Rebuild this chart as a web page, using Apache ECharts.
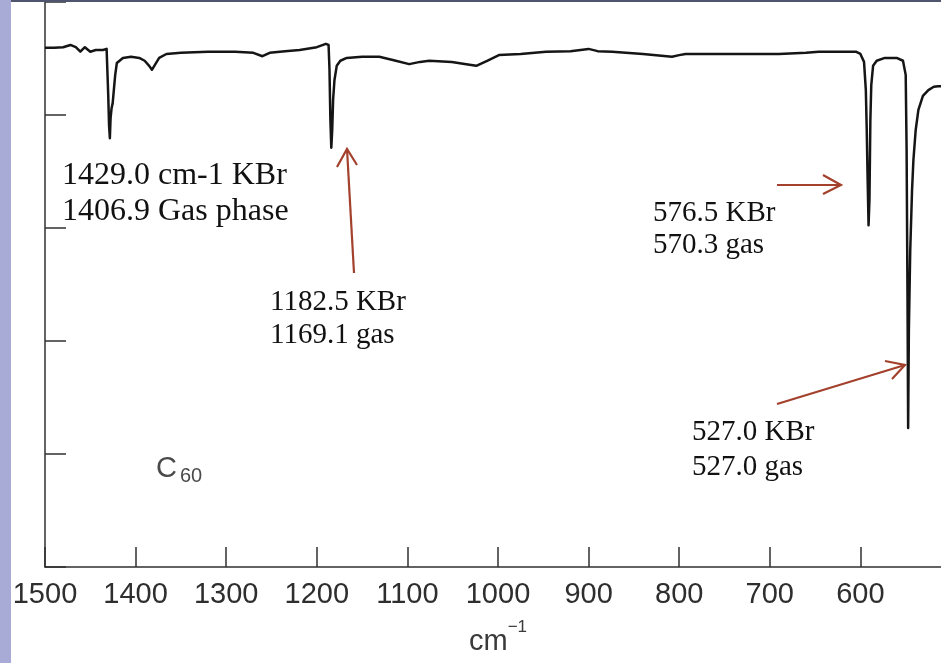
<!DOCTYPE html>
<html>
<head>
<meta charset="utf-8">
<title>C60 IR spectrum</title>
<script src="https://cdn.jsdelivr.net/npm/echarts@6/dist/echarts.min.js"></script>
<style>
  html, body { margin: 0; padding: 0; background: #ffffff; }
  #chart { width: 941px; height: 663px; }
</style>
</head>
<body>
<div id="chart"></div>
<script>
// Wavenumbers (cm^-1) of the sampled spectrum, high to low
const wavenumber = [
  1500, 1490, 1480, 1472, 1466, 1461, 1456, 1450, 1444, 1436, 1432,
  1431, 1430.2, 1429.3, 1428.4, 1427.6, 1426.5, 1425.3, 1424.2, 1422.5, 1420.7,
  1417, 1414, 1405, 1396, 1390, 1385, 1382, 1379, 1374, 1366, 1350,
  1320, 1290, 1270, 1260, 1252, 1235, 1219, 1200, 1190, 1187,
  1186, 1185, 1184, 1183, 1182, 1180.5, 1178, 1174, 1167, 1150,
  1131, 1115, 1098, 1086, 1076, 1051, 1035, 1024, 1012, 999,
  975, 947, 920, 900, 890, 874, 840, 808, 800, 793,
  760, 720, 690, 660, 646, 620, 605, 600,
  596, 594, 593, 592, 591, 590, 589, 588, 586, 582,
  573, 560, 553, 550, 549, 548, 547.3, 546.5, 545, 543,
  541.5, 539, 536, 531, 525, 519, 514, 510
];

// Transmittance (%) at each wavenumber above
const transmittance = [
  91.9, 91.9, 92.0, 92.4, 92.0, 91.2, 92.0, 91.2, 91.5, 91.5, 91.7,
  91.5, 83.5, 78.2, 75.9, 79.5, 81.2, 82.1, 84.1, 87.1, 89.2,
  89.7, 90.1, 90.3, 90.1, 89.6, 88.7, 88.0, 88.8, 90.1, 90.8, 91.0,
  91.2, 91.2, 91.0, 90.4, 91.0, 91.3, 91.5, 92.0, 92.6, 92.4,
  88.0, 79.1, 74.2, 77.3, 82.7, 86.2, 88.7, 89.6, 90.1, 90.3,
  90.3, 89.7, 89.0, 89.4, 89.6, 89.4, 89.0, 88.7, 89.6, 90.6,
  90.8, 91.2, 91.3, 91.7, 91.3, 91.2, 90.8, 90.3, 90.6, 90.8,
  90.8, 90.8, 90.8, 91.0, 91.2, 91.2, 91.2, 90.8,
  89.4, 84.4, 77.3, 68.5, 60.5, 65.0, 79.1, 85.3, 88.7, 89.6,
  90.1, 90.1, 89.6, 87.1, 73.8, 47.3, 24.6, 41.9, 56.0, 66.7,
  72.0, 77.3, 80.9, 83.4, 84.4, 85.0, 85.1, 85.1
];

// Labelled ticks on the wavenumber axis
const xTickLabels = [1500, 1400, 1300, 1200, 1100, 1000, 900, 800, 700, 600];

// Band annotations: two lines of text each
const bandNotes = [
  ['1429.0 cm-1 KBr', '1406.9 Gas phase'],
  ['1182.5 KBr', '1169.1 gas'],
  ['576.5 KBr', '570.3 gas'],
  ['527.0 KBr', '527.0 gas']
];

const spectrum = wavenumber.map((w, i) => [w, transmittance[i]]);

const chart = echarts.init(document.getElementById('chart'), null, { renderer: 'canvas' });

const AXIS = '#303030';
const ARROW = '#a3412d';
const SERIF = '"Liberation Serif", "DejaVu Serif", serif';
const SANS = '"Liberation Sans", Arial, sans-serif';

function noteText(txt, x, y, size) {
  return {
    type: 'text', silent: true, z: 10,
    style: {
      text: txt, x: x, y: y,
      font: size + 'px ' + SERIF,
      fill: '#111111',
      align: 'left', verticalAlign: 'middle'
    }
  };
}

function arrow(points) {
  return {
    type: 'polyline', silent: true, z: 10,
    shape: { points: points },
    style: { stroke: ARROW, lineWidth: 2.2, fill: null, lineJoin: 'miter' }
  };
}

chart.setOption({
  animation: false,
  backgroundColor: '#ffffff',
  // the plot runs on past the right edge of the page (down to 500 cm^-1)
  grid: {
    left: 45, top: 2, bottom: 96, width: 906,
    show: false, containLabel: false, outerBoundsMode: 'none'
  },
  xAxis: {
    type: 'value',
    inverse: true,
    min: 500,
    max: 1500,
    interval: 100,
    name: '{b|cm}{s|−1}',
    nameLocation: 'middle',
    nameGap: 52,
    nameTextStyle: {
      rich: {
        b: { fontFamily: SANS, fontSize: 29, color: '#3a3a3a', padding: [8, 0, 0, 0] },
        s: { fontFamily: SANS, fontSize: 17, color: '#3a3a3a', verticalAlign: 'top' }
      }
    },
    axisLine: { show: true, lineStyle: { color: AXIS, width: 1.5 } },
    axisTick: { show: true, inside: true, length: 20, lineStyle: { color: AXIS, width: 1.5 } },
    axisLabel: {
      show: true,
      margin: 13,
      fontFamily: SANS,
      fontSize: 29,
      color: '#2e2e2e',
      formatter: v => (xTickLabels.indexOf(v) >= 0 ? String(v) : '')
    },
    splitLine: { show: false }
  },
  yAxis: {
    type: 'value',
    min: 0,
    max: 100,
    interval: 20,
    axisLine: { show: true, lineStyle: { color: AXIS, width: 1.5 } },
    axisTick: { show: true, inside: true, length: 21, lineStyle: { color: AXIS, width: 1.5 } },
    axisLabel: { show: false },
    splitLine: { show: false }
  },
  series: [{
    type: 'line',
    data: spectrum,
    showSymbol: false,
    lineStyle: { color: '#151515', width: 2.5, join: 'round' },
    z: 5
  }],
  graphic: [
    // slide frame: side band and top rule
    { type: 'rect', silent: true, z: 20, shape: { x: 0, y: 0, width: 11, height: 663 }, style: { fill: '#a7abd6' } },
    { type: 'rect', silent: true, z: 20, shape: { x: 11, y: 0, width: 930, height: 2 }, style: { fill: '#50556e' } },

    noteText(bandNotes[0][0], 62, 176, 32),
    noteText(bandNotes[0][1], 62, 212, 32),
    noteText(bandNotes[1][0], 270, 302, 29),
    noteText(bandNotes[1][1], 270, 335, 29),
    noteText(bandNotes[2][0], 653, 213, 29),
    noteText(bandNotes[2][1], 653, 245, 29),
    noteText(bandNotes[3][0], 692, 432, 29),
    noteText(bandNotes[3][1], 692, 467, 29),

    // sample label C60
    { type: 'text', silent: true, z: 10,
      style: { text: 'C', x: 156, y: 469, font: '29px ' + SANS, fill: '#4a4a4a', verticalAlign: 'middle' } },
    { type: 'text', silent: true, z: 10,
      style: { text: '60', x: 180, y: 476, font: '20px ' + SANS, fill: '#4a4a4a', verticalAlign: 'middle' } },

    // arrows pointing to the bands
    arrow([[354, 273], [347, 149]]),
    arrow([[337, 167], [347, 149], [357, 165]]),
    arrow([[777, 185], [841, 185]]),
    arrow([[823, 175], [841, 185], [823, 194]]),
    arrow([[777, 404], [905, 365]]),
    arrow([[885, 361], [905, 365], [892, 379]])
  ]
});
</script>
</body>
</html>
